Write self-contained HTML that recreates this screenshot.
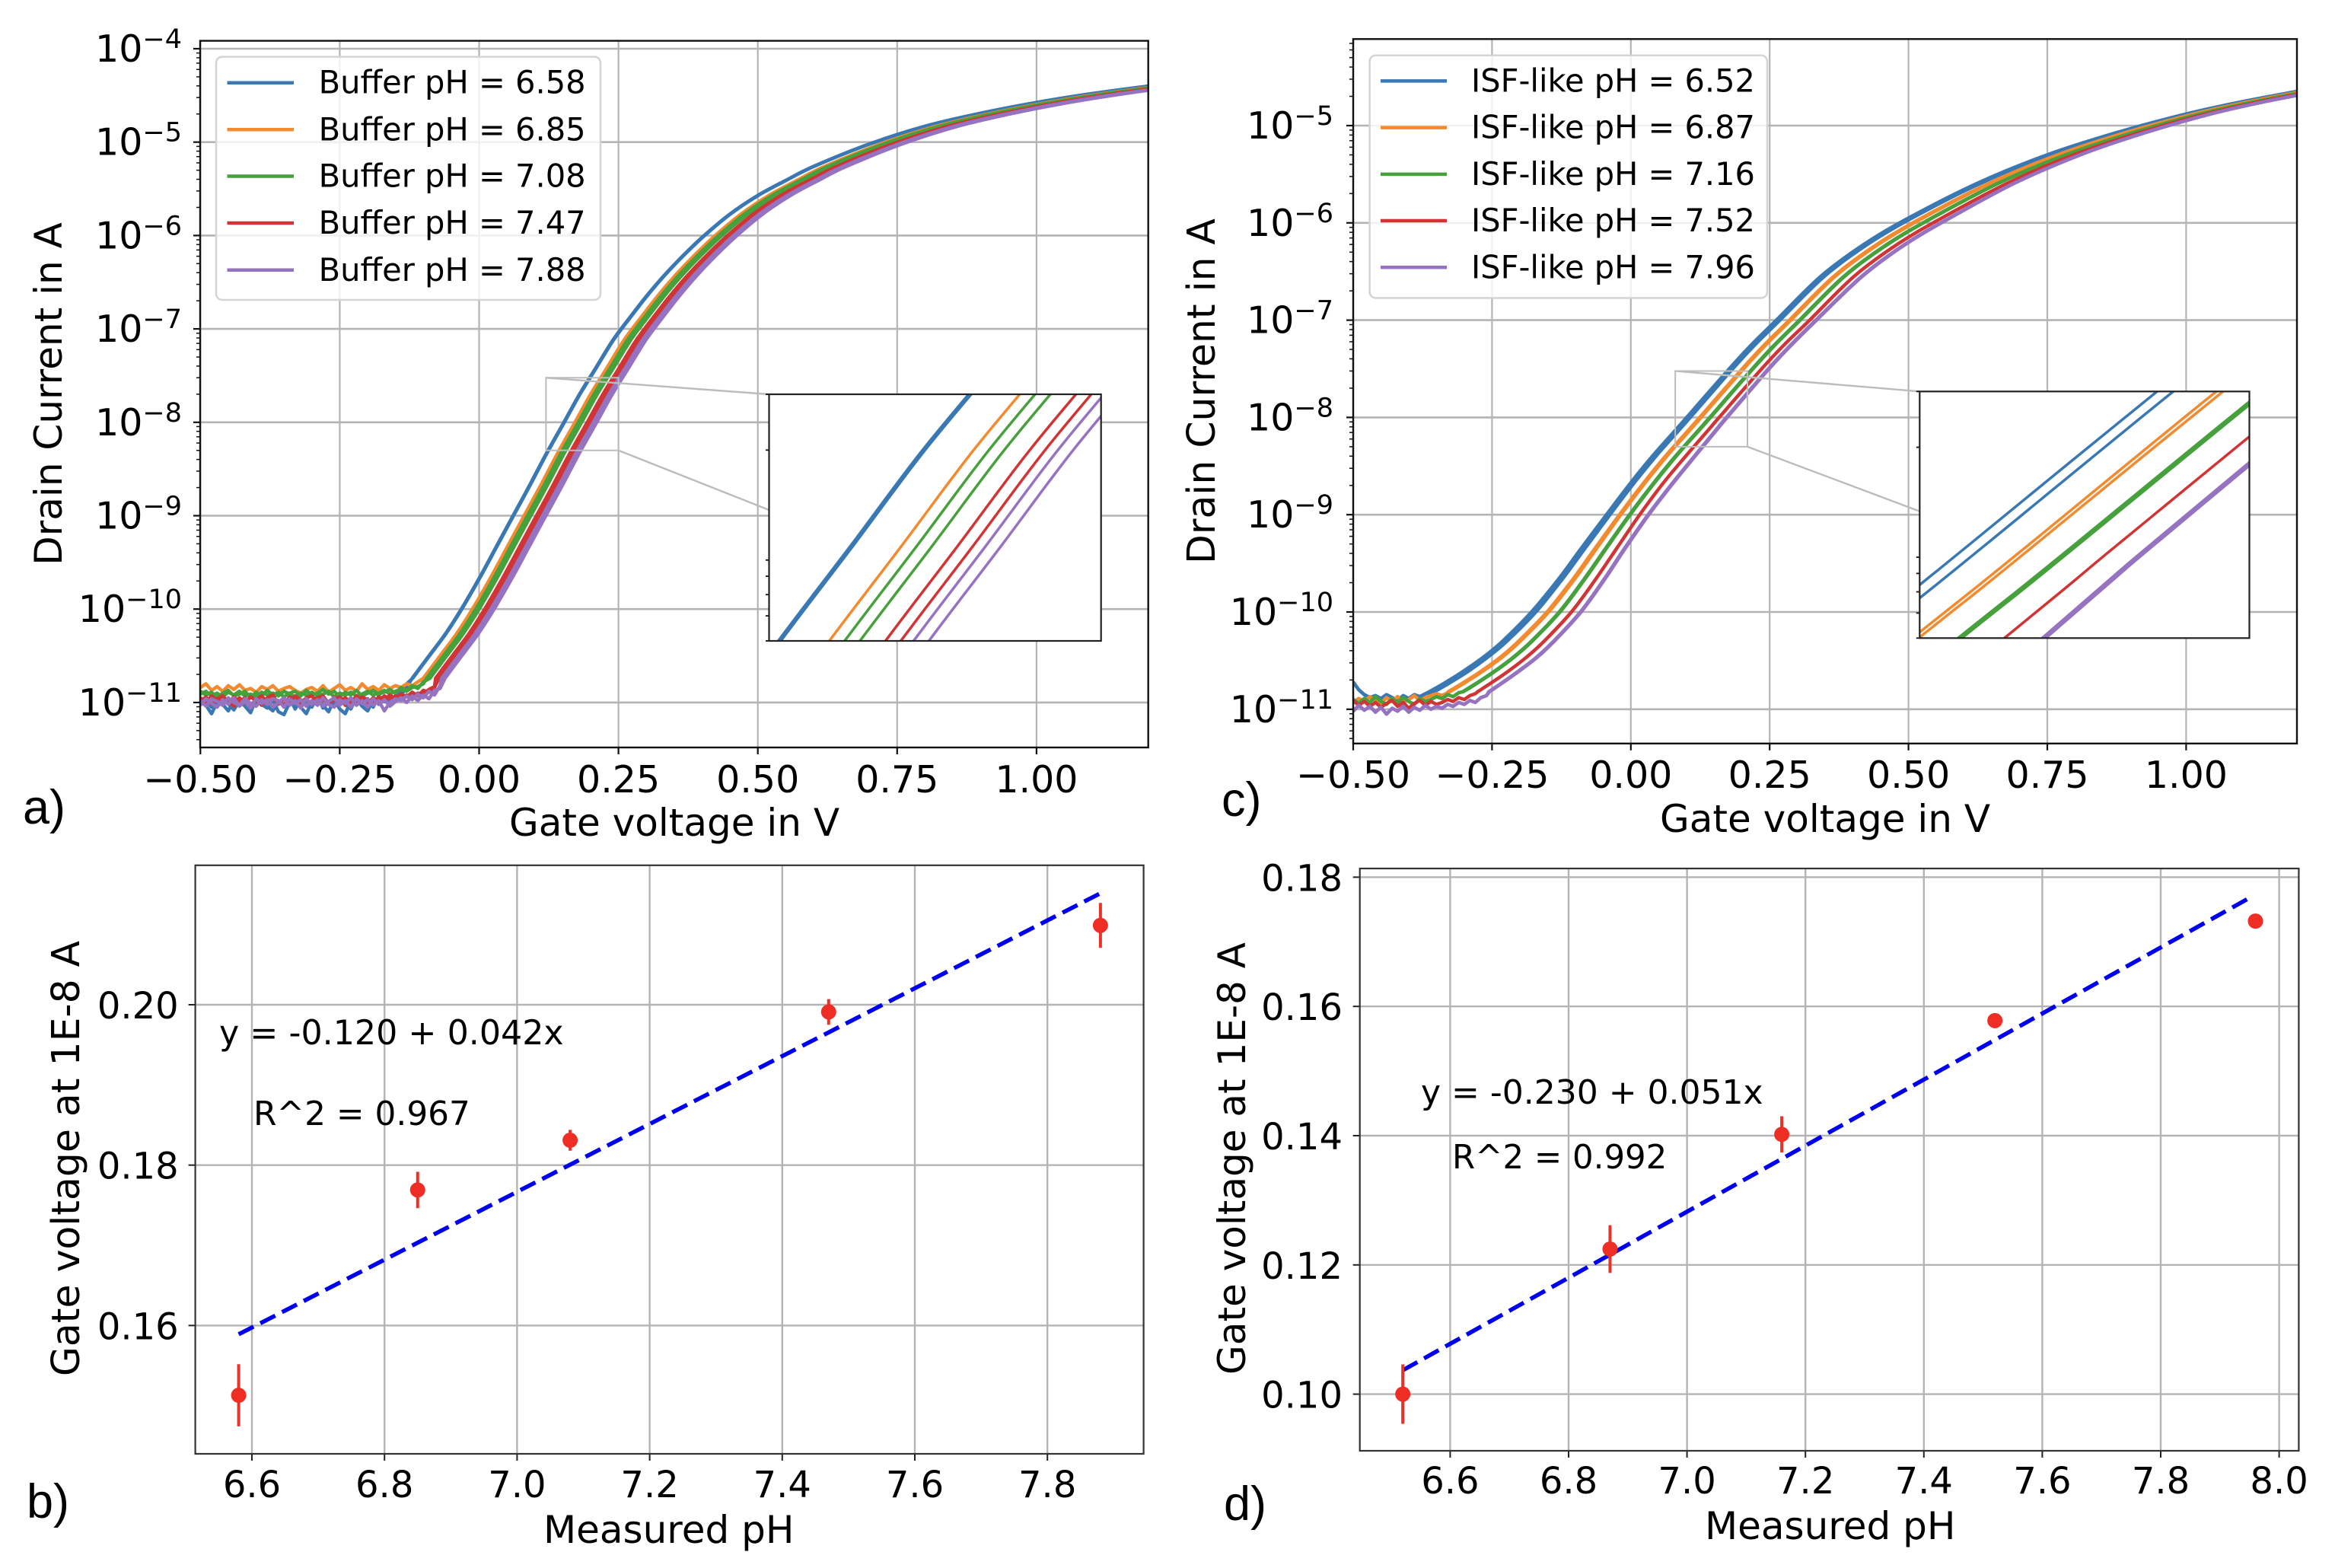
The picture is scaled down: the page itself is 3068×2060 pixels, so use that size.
<!DOCTYPE html>
<html>
<head>
<meta charset="utf-8">
<title>Transfer curves and pH calibration</title>
<style>
html,body{margin:0;padding:0;background:#fff;}
svg{display:block;font-family:"DejaVu Sans","Liberation Sans",sans-serif;fill:#000;}
</style>
</head>
<body>
<svg id="figure" width="3068" height="2060" viewBox="0 0 3068 2060">
<defs>
<clipPath id="clip-a"><rect x="263" y="53.6" width="1245.7" height="928.4"/></clipPath>
<clipPath id="clip-c"><rect x="1778" y="51.3" width="1240" height="925.5"/></clipPath>
<clipPath id="clip-a-inset"><rect x="1010.5" y="518" width="436.2" height="324"/></clipPath>
<clipPath id="clip-c-inset"><rect x="2522.3" y="514.3" width="433.2" height="324"/></clipPath>
<clipPath id="clip-b"><rect x="256.6" y="1136.8" width="1246" height="773.2"/></clipPath>
<clipPath id="clip-d"><rect x="1786.7" y="1141" width="1233.7" height="765"/></clipPath>
</defs>
<rect x="0" y="0" width="3068" height="2060" fill="#ffffff"/>

<!-- Panel a -->
<g>
  <g id="a-under"></g>
  <g>
    <rect x="284" y="74.6" width="505" height="319.4" rx="8" fill="#ffffff" fill-opacity="0.8" stroke="#d4d4d4" stroke-width="2.5"/>
    <g><line x1="298.5" x2="386" y1="108.7" y2="108.7" stroke="#3a78b4" stroke-width="4.5"/><text x="418.6" y="122.7" font-size="41.6">Buffer pH = 6.58</text></g>
    <g><line x1="298.5" x2="386" y1="170.3" y2="170.3" stroke="#f28a30" stroke-width="4.5"/><text x="418.6" y="184.3" font-size="41.6">Buffer pH = 6.85</text></g>
    <g><line x1="298.5" x2="386" y1="231.5" y2="231.5" stroke="#46a03c" stroke-width="4.5"/><text x="418.6" y="245.5" font-size="41.6">Buffer pH = 7.08</text></g>
    <g><line x1="298.5" x2="386" y1="293" y2="293" stroke="#d03434" stroke-width="4.5"/><text x="418.6" y="307" font-size="41.6">Buffer pH = 7.47</text></g>
    <g><line x1="298.5" x2="386" y1="354.8" y2="354.8" stroke="#9673c0" stroke-width="4.5"/><text x="418.6" y="368.8" font-size="41.6">Buffer pH = 7.88</text></g>
  </g>
  <g id="a-over"></g>
  <text x="81" y="517.5" font-size="50" text-anchor="middle" transform="rotate(-90 81 517.5)">Drain Current in A</text>
  <text x="669" y="1098" font-size="50">Gate voltage in V</text>
  <text x="30" y="1082" font-size="63" style="font-family:'Liberation Sans',sans-serif">a)</text>
</g>

<!-- Panel c -->
<g>
  <g id="c-under"></g>
  <g>
    <rect x="1799.6" y="72.7" width="522.4" height="318.8" rx="8" fill="#ffffff" fill-opacity="0.8" stroke="#d4d4d4" stroke-width="2.5"/>
    <g><line x1="1814" x2="1901" y1="106.4" y2="106.4" stroke="#3a78b4" stroke-width="4.5"/><text x="1933" y="120.5" font-size="41.5">ISF-like pH = 6.52</text></g>
    <g><line x1="1814" x2="1901" y1="167.6" y2="167.6" stroke="#f28a30" stroke-width="4.5"/><text x="1933" y="181.7" font-size="41.5">ISF-like pH = 6.87</text></g>
    <g><line x1="1814" x2="1901" y1="228.9" y2="228.9" stroke="#46a03c" stroke-width="4.5"/><text x="1933" y="243" font-size="41.5">ISF-like pH = 7.16</text></g>
    <g><line x1="1814" x2="1901" y1="290" y2="290" stroke="#d03434" stroke-width="4.5"/><text x="1933" y="304.1" font-size="41.5">ISF-like pH = 7.52</text></g>
    <g><line x1="1814" x2="1901" y1="351.3" y2="351.3" stroke="#9673c0" stroke-width="4.5"/><text x="1933" y="365.4" font-size="41.5">ISF-like pH = 7.96</text></g>
  </g>
  <g id="c-over"></g>
  <text x="1596" y="514" font-size="50.4" text-anchor="middle" transform="rotate(-90 1596 514)">Drain Current in A</text>
  <text x="2181" y="1093" font-size="50">Gate voltage in V</text>
  <text x="1605" y="1072" font-size="63" style="font-family:'Liberation Sans',sans-serif">c)</text>
</g>

<!-- Panel b -->
<g>
  <g id="b-plot"></g>
  <text x="288" y="1372" font-size="44.3">y = -0.120 + 0.042x</text>
  <text x="333" y="1478" font-size="43.8">R^2 = 0.967</text>
  <text x="104" y="1522" font-size="50.4" text-anchor="middle" transform="rotate(-90 104 1522)">Gate voltage at 1E-8 A</text>
  <text x="714" y="2027" font-size="50">Measured pH</text>
  <text x="35" y="1994" font-size="63" style="font-family:'Liberation Sans',sans-serif">b)</text>
</g>

<!-- Panel d -->
<g>
  <g id="d-plot"></g>
  <text x="1867" y="1450" font-size="44">y = -0.230 + 0.051x</text>
  <text x="1908" y="1535" font-size="43.4">R^2 = 0.992</text>
  <text x="1636" y="1522" font-size="50" text-anchor="middle" transform="rotate(-90 1636 1522)">Gate voltage at 1E-8 A</text>
  <text x="2240" y="2022" font-size="50">Measured pH</text>
  <text x="1608" y="1997" font-size="63" style="font-family:'Liberation Sans',sans-serif">d)</text>
</g>
</svg>

<script>
/* ---------- Shared data ---------- */
const gateTicks = [-0.5, -0.25, 0, 0.25, 0.5, 0.75, 1];
const gateTickLabels = ['\u22120.50', '\u22120.25', '0.00', '0.25', '0.50', '0.75', '1.00'];
const floorGateV = [-0.50,-0.49,-0.48,-0.47,-0.46,-0.45,-0.44,-0.43,-0.42,-0.41,-0.40,-0.39,-0.38,-0.37,-0.36,-0.35,-0.34,-0.33,-0.32,-0.31,-0.30,-0.29,-0.28,-0.27,-0.26,-0.25,-0.24,-0.23,-0.22,-0.21,-0.20,-0.19,-0.18,-0.17,-0.16,-0.15,-0.14,-0.13,-0.12,-0.11,-0.10,-0.09,-0.08,-0.07,-0.06];

/* ---------- Panel a: log10(drain current) ---------- */
const decadesA = [-4,-5,-6,-7,-8,-9,-10,-11];
const decadeLabelsA = ['\u22124','\u22125','\u22126','\u22127','\u22128','\u22129','\u221210','\u221211'];
const minorLogs = [0.301,0.477,0.602,0.699,0.778,0.845,0.903,0.954];

const floorA_blue = [-10.97,-11.03,-11.12,-11.0,-10.95,-11.01,-11.08,-10.98,-11.04,-11.11,-10.96,-11.02,-11.06,-10.97,-11.1,-11.13,-11.0,-10.96,-11.05,-11.12,-10.99,-10.95,-11.03,-11.1,-10.97,-11.07,-11.12,-10.98,-10.96,-11.04,-11.09,-10.97,-11.02,-10.95,-10.98,-10.94,-10.92,-10.84];
const floorA_blue2 = [-11.01,-10.96,-11.05,-10.94,-11.02,-11.09,-10.97,-11.03,-10.95,-11.06,-11.01,-10.94,-11.04,-11.09,-10.98,-11.03,-10.95,-11.07,-10.97,-11.01,-11.05,-10.93,-11.06,-10.99,-11.04,-10.95,-11.02,-11.07,-10.94,-11.01,-10.96,-11.05,-10.93,-10.99,-10.94,-10.96,-10.88,-10.80];
const floorA_orange = [-10.84,-10.80,-10.87,-10.83,-10.88,-10.82,-10.86,-10.81,-10.87,-10.85,-10.89,-10.83,-10.86,-10.82,-10.88,-10.85,-10.83,-10.87,-10.90,-10.86,-10.84,-10.88,-10.82,-10.89,-10.85,-10.81,-10.87,-10.84,-10.88,-10.80,-10.86,-10.83,-10.87,-10.81,-10.85,-10.82,-10.84,-10.80,-10.82,-10.78];
const floorA_green = [-10.91,-10.88,-10.93,-10.90,-10.94,-10.89,-10.92,-10.88,-10.93,-10.91,-10.94,-10.89,-10.92,-10.90,-10.93,-10.88,-10.91,-10.94,-10.90,-10.92,-10.89,-10.93,-10.91,-10.88,-10.94,-10.90,-10.92,-10.89,-10.93,-10.91,-10.88,-10.92,-10.90,-10.87,-10.91,-10.88,-10.86,-10.88,-10.84,-10.83,-10.80];
const floorA_green2 = [-10.88,-10.92,-10.89,-10.95,-10.90,-10.87,-10.93,-10.91,-10.88,-10.95,-10.89,-10.93,-10.87,-10.92,-10.89,-10.94,-10.90,-10.88,-10.93,-10.87,-10.92,-10.90,-10.86,-10.91,-10.88,-10.94,-10.89,-10.92,-10.87,-10.93,-10.90,-10.87,-10.91,-10.89,-10.86,-10.90,-10.84,-10.87,-10.82,-10.85,-10.78];
const floorA_red = [-10.95,-11.0,-10.93,-10.98,-10.96,-11.02,-10.94,-10.99,-10.95,-11.03,-10.97,-10.93,-11.0,-10.96,-10.99,-11.03,-10.94,-10.98,-11.01,-10.95,-10.93,-11.0,-10.97,-11.02,-10.94,-10.98,-10.95,-11.0,-10.93,-10.97,-11.01,-10.95,-10.98,-10.93,-10.96,-10.93,-10.95,-10.92,-10.94,-10.90,-10.91,-10.86,-10.83];
const floorA_red2 = [-10.99,-10.94,-11.02,-10.96,-10.93,-10.99,-11.04,-10.95,-11.01,-10.94,-10.98,-11.03,-10.95,-10.92,-11.02,-10.96,-11.0,-10.93,-10.97,-11.04,-10.98,-10.95,-10.93,-11.01,-10.97,-10.94,-11.03,-10.96,-10.99,-10.94,-10.97,-11.02,-10.94,-10.98,-10.92,-10.97,-10.91,-10.94,-10.89,-10.93,-10.87,-10.89,-10.84];
const floorA_purple = [-11.03,-10.96,-11.01,-11.05,-10.97,-11.02,-10.95,-11.04,-10.99,-11.06,-10.96,-11.01,-10.97,-11.05,-11.0,-10.95,-11.03,-10.98,-11.06,-10.96,-11.02,-10.97,-11.04,-10.99,-10.95,-11.03,-10.98,-11.05,-10.96,-11.01,-10.97,-11.03,-10.98,-11.09,-11.0,-10.96,-10.98,-10.93,-10.97,-10.91,-10.95,-10.88,-10.92,-10.82];
const floorA_purple2 = [-10.98,-11.04,-10.96,-10.99,-11.03,-10.95,-11.0,-11.03,-10.96,-11.01,-11.04,-10.97,-11.02,-10.96,-10.98,-11.05,-10.96,-11.01,-10.97,-11.04,-10.98,-11.03,-10.95,-11.02,-11.05,-10.97,-11.01,-10.95,-11.03,-10.98,-11.05,-10.96,-11.02,-10.97,-11.04,-10.99,-10.95,-11.0,-10.93,-10.98,-10.92,-10.96,-10.87,-10.85];

const riseLogA = [-10.74,-10.5,-10.26,-10,-9.67,-9.34,-9.02,-8.68,-8.34,-8,-7.7,-7.41,-7.12,-6.88,-6.65,-6.44,-6.25,-6.02,-5.77,-5.57,-5.41,-5.26,-5.02,-4.83,-4.69,-4.575,-4.48,-4.4];
const riseA_blue1 = [-.120,-.090,-.060,-.032,0,.030,.059,.090,.120,.152,.180,.210,.240,.270,.300,.330,.360,.400,.450,.500,.550,.600,.700,.800,.900,1.000,1.100,1.200];
const riseA_blue2 = [-.119,-.089,-.059,-.031,.001,.031,.060,.091,.121,.153,.181,.211,.241,.271,.301,.331,.361,.401,.451,.501,.551,.601,.701,.801,.901,1.001,1.101,1.201];
const riseA_orange = [-.100,-.070,-.040,-.012,.020,.050,.079,.110,.140,.172,.200,.230,.260,.290,.320,.350,.380,.420,.470,.520,.570,.620,.720,.820,.920,1.020,1.120,1.220];
const riseA_green1 = [-.094,-.064,-.034,-.006,.026,.056,.085,.116,.146,.178,.206,.236,.266,.296,.326,.356,.386,.426,.476,.526,.576,.626,.726,.826,.926,1.026,1.126,1.226];
const riseA_green2 = [-.088,-.058,-.028,.000,.032,.062,.091,.122,.152,.184,.212,.242,.272,.302,.332,.362,.392,.432,.482,.532,.582,.632,.732,.832,.932,1.032,1.132,1.232];
const riseA_red1 = [-.078,-.048,-.018,.010,.042,.072,.101,.132,.162,.194,.222,.252,.282,.312,.342,.372,.402,.442,.492,.542,.592,.642,.742,.842,.942,1.042,1.142,1.242];
const riseA_red2 = [-.072,-.042,-.012,.016,.048,.078,.107,.138,.168,.200,.228,.258,.288,.318,.348,.378,.408,.448,.498,.548,.598,.648,.748,.848,.948,1.048,1.148,1.248];
const riseA_purple1 = [-.067,-.037,-.007,.021,.053,.083,.112,.143,.173,.205,.233,.263,.293,.323,.353,.383,.413,.453,.503,.553,.603,.653,.753,.853,.953,1.053,1.153,1.253];
const riseA_purple2 = [-.061,-.031,-.001,.027,.059,.089,.118,.149,.179,.211,.239,.269,.299,.329,.359,.389,.419,.459,.509,.559,.609,.659,.759,.859,.959,1.059,1.159,1.259];

/* ---------- Panel c: log10(drain current) ---------- */
const decadesC = [-5,-6,-7,-8,-9,-10,-11];
const decadeLabelsC = ['\u22125','\u22126','\u22127','\u22128','\u22129','\u221210','\u221211'];

const floorC_blue = [-10.72,-10.80,-10.85,-10.88,-10.86,-10.89,-10.85,-10.88,-10.91,-10.86,-10.89,-10.85,-10.87,-10.84];
const floorC_orange = [-10.93,-10.89,-10.92,-10.87,-10.91,-10.94,-10.88,-10.92,-10.87,-10.93,-10.90,-10.86,-10.91,-10.88,-10.86,-10.84,-10.86,-10.83];
const floorC_green = [-10.90,-10.94,-10.89,-10.93,-10.87,-10.92,-10.95,-10.89,-10.93,-10.88,-10.92,-10.95,-10.89,-10.92,-10.90,-10.87,-10.89,-10.85,-10.87,-10.83];
const floorC_red = [-10.91,-10.96,-10.92,-10.97,-10.93,-10.98,-10.94,-10.91,-10.97,-10.93,-10.99,-10.94,-10.91,-10.96,-10.92,-10.95,-10.93,-10.90,-10.92,-10.88,-10.90,-10.86,-10.84];
const floorC_purple = [-11.02,-10.96,-11.01,-10.97,-11.03,-10.98,-11.05,-10.99,-11.02,-10.97,-11.03,-10.98,-11.01,-10.96,-11.0,-10.97,-10.99,-10.95,-10.97,-10.93,-10.95,-10.91,-10.93,-10.88,-10.86];

const riseLogC = [-10.82,-10.735,-10.61,-10.47,-10.305,-10,-9.66,-9.35,-9,-8.67,-8.39,-8.133,-8,-7.523,-7.26,-7,-6.55,-6.22,-5.95,-5.59,-5.3,-5.07,-4.88,-4.755,-4.65];
const riseC_blue1 = [-.363,-.337,-.302,-.267,-.232,-.179,-.130,-.090,-.044,0,.040,.080,.1005,.1736,.216,.262,.342,.420,.500,.625,.750,.876,1.000,1.100,1.198];
const riseC_blue2 = [-.354,-.328,-.293,-.259,-.224,-.171,-.123,-.083,-.0375,.0065,.0465,.0865,.107,.180,.2225,.2685,.3485,.4265,.5065,.631,.755,.8805,1.004,1.1035,1.201];
const riseC_orange1 = [-.329,-.304,-.270,-.236,-.203,-.151,-.104,-.065,-.0205,.0235,.0635,.1035,.124,.197,.2395,.2855,.3655,.4435,.5235,.646,.769,.892,1.014,1.113,1.210];
const riseC_orange2 = [-.326,-.301,-.267,-.233,-.200,-.148,-.101,-.062,-.018,.026,.066,.106,.1265,.1996,.242,.288,.368,.446,.526,.648,.771,.894,1.016,1.114,1.211];
const riseC_green1 = [-.303,-.279,-.246,-.213,-.180,-.129,-.084,-.046,-.0025,.0415,.0815,.1215,.142,.215,.2575,.3035,.3835,.4615,.5415,.662,.783,.905,1.025,1.123,1.219];
const riseC_green2 = [-.3015,-.2775,-.2445,-.2115,-.1785,-.1275,-.0825,-.0445,-.001,.043,.083,.123,.1435,.2165,.259,.305,.385,.463,.543,.6635,.7845,.906,1.026,1.124,1.220];
const riseC_red = [-.276,-.253,-.221,-.189,-.157,-.107,-.063,-.026,.016,.059,.100,.139,.159,.232,.275,.322,.402,.480,.560,.679,.798,.918,1.036,1.133,1.228];
const riseC_purple1 = [-.256,-.234,-.203,-.171,-.140,-.091,-.048,-.012,.031,.0755,.1155,.1525,.172,.244,.287,.333,.4155,.4935,.5735,.691,.809,.927,1.044,1.140,1.235];
const riseC_purple2 = [-.2545,-.2325,-.2015,-.1695,-.1385,-.0895,-.0465,-.0105,.0325,.077,.117,.154,.1735,.2455,.2885,.3345,.417,.495,.575,.692,.81,.928,1.045,1.141,1.236];

/* ---------- Panel b ---------- */
const phB = [6.58, 6.85, 7.08, 7.47, 7.88];
const gateB = [0.1513, 0.1769, 0.1831, 0.1991, 0.2099];
const errB = [0.00387, 0.00227, 0.0013, 0.0016, 0.0028];
const fitPhB = [6.58, 7.88];
const fitGateB = [0.1589, 0.2139];
const xTicksB = [6.6, 6.8, 7.0, 7.2, 7.4, 7.6, 7.8];
const xTickLabelsB = ['6.6','6.8','7.0','7.2','7.4','7.6','7.8'];
const yTicksB = [0.16, 0.18, 0.20];
const yTickLabelsB = ['0.16','0.18','0.20'];

/* ---------- Panel d ---------- */
const phD = [6.52, 6.87, 7.16, 7.52, 7.96];
const gateD = [0.1, 0.12245, 0.1402, 0.1578, 0.1732];
const errD = [0.0046, 0.0037, 0.0028, 0, 0];
const fitPhD = [6.52, 7.956];
const fitGateD = [0.1037, 0.1771];
const xTicksD = [6.6, 6.8, 7.0, 7.2, 7.4, 7.6, 7.8, 8.0];
const xTickLabelsD = ['6.6','6.8','7.0','7.2','7.4','7.6','7.8','8.0'];
const yTicksD = [0.10, 0.12, 0.14, 0.16, 0.18];
const yTickLabelsD = ['0.10','0.12','0.14','0.16','0.18'];

/* ---------- Drawing ---------- */
const NS = document.getElementById('figure').namespaceURI;
function mk(parent, tag, attrs) {
  const el = document.createElementNS(NS, tag);
  for (const k in attrs) el.setAttribute(k, attrs[k]);
  parent.appendChild(el);
  return el;
}
const BLUE = '#3a78b4', ORANGE = '#f28a30', GREEN = '#46a03c', RED = '#d03434', PURPLE = '#9673c0';
const GRID = '#b4b4b4';

function drawSweep(g, x, y, floor, rise, logs, color, width, clip, useFloor) {
  let d = '';
  if (useFloor) {
    for (let i = 0; i < floor.length; i++) {
      if (floorGateV[i] < rise[0]) d += (d ? 'L' : 'M') + x(floorGateV[i]).toFixed(2) + ' ' + y(floor[i]).toFixed(2);
    }
  }
  const px = rise.map(function (v) { return x(v); });
  const py = logs.map(function (v) { return y(v); });
  d += (d ? 'L' : 'M') + px[0].toFixed(2) + ' ' + py[0].toFixed(2);
  for (let i = 0; i < px.length - 1; i++) {
    const a = Math.max(i - 1, 0), b = Math.min(i + 2, px.length - 1);
    d += 'C' + (px[i] + (px[i + 1] - px[a]) / 6).toFixed(2) + ' ' + (py[i] + (py[i + 1] - py[a]) / 6).toFixed(2) + ' ' +
         (px[i + 1] - (px[b] - px[i]) / 6).toFixed(2) + ' ' + (py[i + 1] - (py[b] - py[i]) / 6).toFixed(2) + ' ' +
         px[i + 1].toFixed(2) + ' ' + py[i + 1].toFixed(2);
  }
  const p = mk(g, 'path', {d: d, fill: 'none', stroke: color, 'stroke-width': width, 'stroke-linejoin': 'round', 'clip-path': 'url(#' + clip + ')'});
  
  
}

function drawLogPanel(c) {
  const g = document.getElementById(c.id + '-under');
  const over = document.getElementById(c.id + '-over');
  const x = c.x, y = c.y;
  // grid
  c.ticks.forEach(function (v) {
    const l = mk(g, 'line', {x1: x(v), x2: x(v), y1: c.top, y2: c.bottom, stroke: GRID, 'stroke-width': 2.2});
    
    
  });
  c.decades.forEach(function (dec) {
    const l = mk(g, 'line', {x1: c.left, x2: c.right, y1: y(dec), y2: y(dec), stroke: GRID, 'stroke-width': 2.6});
    
    
  });
  // curves
  c.sweeps.forEach(function (s) {
    drawSweep(g, x, y, s[0], s[1], c.logs, s[2], 4.5, 'clip-' + c.id, true);
  });
  // zoom indicator
  const ix1 = x(c.zoomX[0]), ix2 = x(c.zoomX[1]), iy1 = y(c.zoomY[1]), iy2 = y(c.zoomY[0]);
  const box = mk(g, 'rect', {x: ix1, y: iy1, width: ix2 - ix1, height: iy2 - iy1, fill: 'none', stroke: '#bcbcbc', 'stroke-width': 2});
  
  
  const c1 = mk(g, 'line', {x1: ix1, y1: iy1, x2: c.inset.left, y2: c.inset.top, stroke: '#bcbcbc', 'stroke-width': 2.4});
  
  
  const c2 = mk(g, 'line', {x1: ix2, y1: iy2, x2: c.inset.left, y2: c.inset.lowY, stroke: '#bcbcbc', 'stroke-width': 2.4});
  
  
  // inset
  const I = c.inset;
  const ib = mk(over, 'rect', {x: I.left, y: I.top, width: I.right - I.left, height: I.bottom - I.top, fill: '#ffffff'});
  
  
  const ix = function (v) { return I.left + (v - c.zoomX[0]) * (I.right - I.left) / (c.zoomX[1] - c.zoomX[0]); };
  const iy = function (d) { return I.top + (c.zoomY[1] - d) * (I.bottom - I.top) / (c.zoomY[1] - c.zoomY[0]); };
  c.sweeps.forEach(function (s) {
    drawSweep(over, ix, iy, s[0], s[1], c.logs, s[2], 3.5, 'clip-' + c.id + '-inset', false);
  });
  [-8.222, -8.155, -8.097, -8.046, -7.699, -7.523, -8.301].forEach(function (d) {
    const t = mk(over, 'line', {x1: I.left - 4.5, x2: I.left, y1: iy(d), y2: iy(d), stroke: '#111', 'stroke-width': 1.8});
    
    
  });
  const f = mk(over, 'rect', {x: I.left, y: I.top, width: I.right - I.left, height: I.bottom - I.top, fill: 'none', stroke: '#222', 'stroke-width': 2.2});
  
  
  // spines
  const sp = mk(over, 'rect', {x: c.left, y: c.top, width: c.right - c.left, height: c.bottom - c.top, fill: 'none', stroke: '#111', 'stroke-width': 2.4});
  
  
  // x ticks
  c.ticks.forEach(function (v, i) {
    const t = mk(over, 'line', {x1: x(v), x2: x(v), y1: c.bottom, y2: c.bottom + 9, stroke: '#111', 'stroke-width': 2.2});
    
    
    const lab = mk(over, 'text', {x: x(v), y: c.xLabelY, 'font-size': 49, 'text-anchor': 'middle'});
    lab.textContent = gateTickLabels[i];
    
    
  });
  // y ticks and labels
  c.decades.forEach(function (dec, i) {
    const t = mk(over, 'line', {x1: c.left - 9, x2: c.left, y1: y(dec), y2: y(dec), stroke: '#111', 'stroke-width': 2.2});
    
    
    const lab = mk(over, 'text', {x: c.yLabelEnd, y: y(dec) + 17, 'font-size': 49, 'text-anchor': 'end'});
    lab.appendChild(document.createTextNode('10'));
    const e = mk(lab, 'tspan', {dy: -18, 'font-size': 35});
    e.textContent = c.decadeLabels[i];
    
    
  });
  for (let dec = -12; dec <= -4; dec++) {
    minorLogs.forEach(function (m) {
      const yy = y(dec + m);
      if (yy > c.top + 1 && yy < c.bottom - 1) {
        const t = mk(over, 'line', {x1: c.left - 5, x2: c.left, y1: yy, y2: yy, stroke: '#111', 'stroke-width': 1.5});
        
        
      }
    });
  }
}

function drawScatterPanel(c) {
  const g = document.getElementById(c.id + '-plot');
  const x = c.x, y = c.y;
  c.xTicks.forEach(function (v, i) {
    const l = mk(g, 'line', {x1: x(v), x2: x(v), y1: c.top, y2: c.bottom, stroke: GRID, 'stroke-width': 2.4});
    
    
    const t = mk(g, 'line', {x1: x(v), x2: x(v), y1: c.bottom, y2: c.bottom + 9, stroke: '#222', 'stroke-width': 2});
    
    
    const lab = mk(g, 'text', {x: x(v), y: c.xLabelY, 'font-size': 48, 'text-anchor': 'middle'});
    lab.textContent = c.xTickLabels[i];
    
    
  });
  c.yTicks.forEach(function (v, i) {
    const l = mk(g, 'line', {x1: c.left, x2: c.right, y1: y(v), y2: y(v), stroke: GRID, 'stroke-width': 2.4});
    
    
    const t = mk(g, 'line', {x1: c.left - 9, x2: c.left, y1: y(v), y2: y(v), stroke: '#222', 'stroke-width': 2});
    
    
    const lab = mk(g, 'text', {x: c.yLabelEnd, y: y(v) + 18, 'font-size': 48, 'text-anchor': 'end'});
    lab.textContent = c.yTickLabels[i];
    
    
  });
  const fit = mk(g, 'line', {x1: x(c.fitX[0]), y1: y(c.fitY[0]), x2: x(c.fitX[1]), y2: y(c.fitY[1]), stroke: '#0000f0', 'stroke-width': 5.5, 'stroke-dasharray': '22 10', 'clip-path': 'url(#clip-' + c.id + ')'});
  
  
  c.px.forEach(function (v, i) {
    if (c.err[i] > 0) {
      const e = mk(g, 'line', {x1: x(v), x2: x(v), y1: y(c.py[i] - c.err[i]), y2: y(c.py[i] + c.err[i]), stroke: '#e8332a', 'stroke-width': 4});
      
      
    }
    const m = mk(g, 'circle', {cx: x(v), cy: y(c.py[i]), r: 10, fill: '#ee2e24'});
    
    
  });
  const sp = mk(g, 'rect', {x: c.left, y: c.top, width: c.right - c.left, height: c.bottom - c.top, fill: 'none', stroke: '#333', 'stroke-width': 2.2});
  
  
}

drawLogPanel({
  id: 'a', left: 263, right: 1508.7, top: 53.6, bottom: 982,
  x: function (v) { return 629.5 + v * 732.4; },
  y: function (d) { return 64 + (-4 - d) * 122.7; },
  ticks: gateTicks, decades: decadesA, decadeLabels: decadeLabelsA, logs: riseLogA,
  xLabelY: 1041, yLabelEnd: 239,
  zoomX: [0.12, 0.25], zoomY: [-8.301, -7.523],
  inset: {left: 1010.5, right: 1446.7, top: 518, bottom: 842, lowY: 670},
  sweeps: [
    [floorA_blue, riseA_blue1, BLUE], [floorA_blue2, riseA_blue2, BLUE],
    [floorA_orange, riseA_orange, ORANGE],
    [floorA_green, riseA_green1, GREEN], [floorA_green2, riseA_green2, GREEN],
    [floorA_red, riseA_red1, RED], [floorA_red2, riseA_red2, RED],
    [floorA_purple, riseA_purple1, PURPLE], [floorA_purple2, riseA_purple2, PURPLE]
  ]
});

drawLogPanel({
  id: 'c', left: 1778, right: 3018, top: 51.3, bottom: 976.8,
  x: function (v) { return 2142.8 + v * 729.6; },
  y: function (d) { return 165 + (-5 - d) * 127.8; },
  ticks: gateTicks, decades: decadesC, decadeLabels: decadeLabelsC, logs: riseLogC,
  xLabelY: 1035, yLabelEnd: 1752,
  zoomX: [0.08, 0.21], zoomY: [-8.301, -7.523],
  inset: {left: 2522.3, right: 2955.5, top: 514.3, bottom: 838.3, lowY: 671.7},
  sweeps: [
    [floorC_blue, riseC_blue1, BLUE], [floorC_blue, riseC_blue2, BLUE],
    [floorC_orange, riseC_orange1, ORANGE], [floorC_orange, riseC_orange2, ORANGE],
    [floorC_green, riseC_green1, GREEN], [floorC_green, riseC_green2, GREEN],
    [floorC_red, riseC_red, RED],
    [floorC_purple, riseC_purple1, PURPLE], [floorC_purple, riseC_purple2, PURPLE]
  ]
});

drawScatterPanel({
  id: 'b', left: 256.6, right: 1502.6, top: 1136.8, bottom: 1910,
  x: function (v) { return 331 + (v - 6.6) * 871; },
  y: function (v) { return 1530.7 - (v - 0.18) * 10535; },
  xTicks: xTicksB, xTickLabels: xTickLabelsB, yTicks: yTicksB, yTickLabels: yTickLabelsB,
  xLabelY: 1967, yLabelEnd: 234.7,
  px: phB, py: gateB, err: errB, fitX: fitPhB, fitY: fitGateB
});

drawScatterPanel({
  id: 'd', left: 1786.7, right: 3020.4, top: 1141, bottom: 1906,
  x: function (v) { return 1905.4 + (v - 6.6) * 778; },
  y: function (v) { return 1831.6 - (v - 0.10) * 8490; },
  xTicks: xTicksD, xTickLabels: xTickLabelsD, yTicks: yTicksD, yTickLabels: yTickLabelsD,
  xLabelY: 1962, yLabelEnd: 1764,
  px: phD, py: gateD, err: errD, fitX: fitPhD, fitY: fitGateD
});
</script>
</body>
</html>
